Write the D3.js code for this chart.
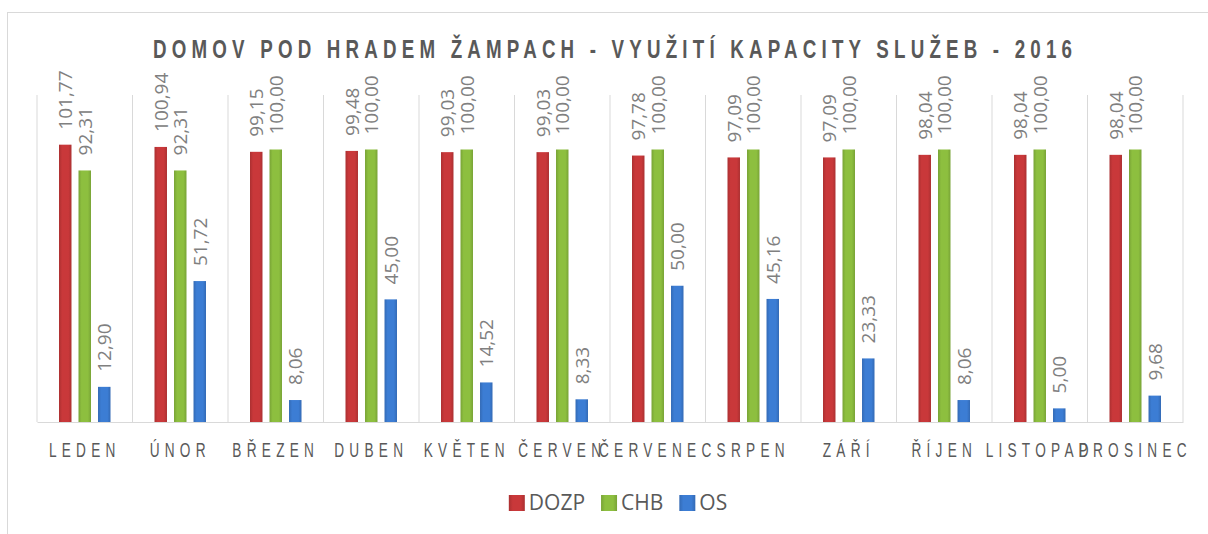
<!DOCTYPE html>
<html>
<head>
<meta charset="utf-8">
<script src="https://cdn.jsdelivr.net/npm/d3@7"></script>
<style>
	body{margin:0;background:#fff;}
	svg{display:block;}
	.lbls{font-family:"Open Sans",sans-serif;font-size:19px;fill:#808080;}
	.cat{font-family:"Liberation Sans",Arial,sans-serif;font-size:19.5px;fill:#595959;}
	.ttl{font-family:"Liberation Sans",Arial,sans-serif;font-size:25px;font-weight:bold;fill:#595959;}
	.leg{font-family:"Open Sans",sans-serif;font-size:21px;fill:#595959;}
</style>
</head>
<body>
<div id="chart"></div>
<script>
// data
var months=["LEDEN","ÚNOR","BŘEZEN","DUBEN","KVĚTEN","ČERVEN","ČERVENEC","SRPEN","ZÁŘÍ","ŘÍJEN","LISTOPAD","PROSINEC"];
var seriesNames=["DOZP","CHB","OS"];
var dozp=[101.77,100.94,99.15,99.48,99.03,99.03,97.78,97.09,97.09,98.04,98.04,98.04];
var chb=[92.31,92.31,100.00,100.00,100.00,100.00,100.00,100.00,100.00,100.00,100.00,100.00];
var os=[12.90,51.72,8.06,45.00,14.52,8.33,50.00,45.16,23.33,8.06,5.00,9.68];
var colors=["#c9383a","#8dbf3f","#3c7dd4"];
var title="DOMOV POD HRADEM ŽAMPACH - VYUŽITÍ KAPACITY SLUŽEB - 2016";

var width=1208,height=534;
var plot={left:37,right:1183,top:95,bottom:422};

var data=months.map(function(m,i){
	return {month:m,vals:[dozp[i],chb[i],os[i]]};
});

var svg=d3.select('#chart')
		.append('svg')
		.attr('width',width)
		.attr('height',height);

// outer frame (cut off at right and bottom like the source)
svg.append('rect')
	.attr('x',7.5).attr('y',12.5)
	.attr('width',1300).attr('height',600)
	.attr('fill','#fff')
	.attr('stroke','#d9d9d9');

/***** gradients for the bevelled bars ************************/
var defs=svg.append('defs');
colors.forEach(function(c,i){
	var g=defs.append('linearGradient').attr('id','g'+i).attr('x1','0').attr('x2','1').attr('y1','0').attr('y2','0');
	var dark=d3.color(c).darker(0.45);
	g.append('stop').attr('offset','0%').attr('stop-color',dark);
	g.append('stop').attr('offset','25%').attr('stop-color',c);
	g.append('stop').attr('offset','75%').attr('stop-color',c);
	g.append('stop').attr('offset','100%').attr('stop-color',dark);
});

/***** scales ************************/
var x0=d3.scaleBand()
		.domain(months)
		.range([plot.left,plot.right])
		.padding(0);
var x1=d3.scaleBand()
		.domain(seriesNames)
		.range([0,51.5])
		.paddingInner(0.36)
		.paddingOuter(0);
var groupOff=(x0.bandwidth()-51.5)/2;
var y=d3.scaleLinear()
		.domain([0,120])
		.range([plot.bottom,plot.top]);

var fmt=function(v){return d3.format('.2f')(v).replace('.',',');};

// category separators
svg.append('g')
	.selectAll('line')
	.data(d3.range(months.length+1))
	.enter()
	.append('line')
	.attr('x1',function(i){return plot.left+i*x0.step()})
	.attr('x2',function(i){return plot.left+i*x0.step()})
	.attr('y1',plot.top)
	.attr('y2',plot.bottom)
	.attr('stroke','#d9d9d9')
	.attr('stroke-width',1);

// bars
var groups=svg.selectAll('.grp')
		.data(data)
		.enter()
		.append('g')
		.attr('class','grp')
		.attr('transform',function(d){return 'translate('+(x0(d.month)+groupOff)+',0)'});

groups.selectAll('rect')
	.data(function(d){return d.vals.map(function(v,i){return {s:seriesNames[i],v:v,i:i}})})
	.enter()
	.append('rect')
	.attr('x',function(d){return x1(d.s)})
	.attr('y',function(d){return y(d.v)})
	.attr('width',x1.bandwidth())
	.attr('height',function(d){return plot.bottom-y(d.v)})
	.attr('fill',function(d){return 'url(#g'+d.i+')'});

// value labels, rotated
groups.selectAll('.lbls')
	.data(function(d){return d.vals.map(function(v,i){return {s:seriesNames[i],v:v}})})
	.enter()
	.append('text')
	.attr('class','lbls')
	.attr('transform',function(d){return 'translate('+(x1(d.s)+x1.bandwidth()/2)+','+(y(d.v)-15)+') rotate(-90)'})
	.attr('dy','0.36em')
	.text(function(d){return fmt(d.v)});

// baseline
var xAxis=d3.axisBottom(x0).tickSize(0).tickFormat('');
svg.append('g')
	.attr('class','x-axis')
	.attr('transform','translate(0,'+plot.bottom+')')
	.call(xAxis)
	.select('.domain')
	.attr('stroke','#d9d9d9');

// category labels, narrow & spaced
svg.selectAll('.catg')
	.data(months)
	.enter()
	.append('g')
	.attr('transform',function(d){return 'translate('+(x0(d)+x0.bandwidth()/2)+',457) scale(0.7,1)'})
	.append('text')
	.attr('class','cat')
	.attr('text-anchor','middle')
	.style('letter-spacing','7.5px')
	.text(function(d){return d});

// title
var tg=svg.append('g').attr('transform','translate(153,58) scale(0.75,1)');
var tt=tg.append('text').attr('class','ttl').text(title);
var natural=tt.node().getComputedTextLength();
tt.style('letter-spacing',((919/0.75-natural)/(title.length-1))+'px');

// legend
var leg=svg.append('g');
var lx=0;
seriesNames.forEach(function(s,i){
	var it=leg.append('g').attr('transform','translate('+lx+',0)');
	it.append('rect').attr('x',0).attr('y',495).attr('width',16).attr('height',16).attr('fill','url(#g'+i+')');
	var t=it.append('text').attr('class','leg').attr('x',20).attr('y',510).text(s);
	lx+=20+t.node().getComputedTextLength()+16;
});
leg.attr('transform','translate('+(618-(lx-16)/2)+',0)');
</script>
</body>
</html>
